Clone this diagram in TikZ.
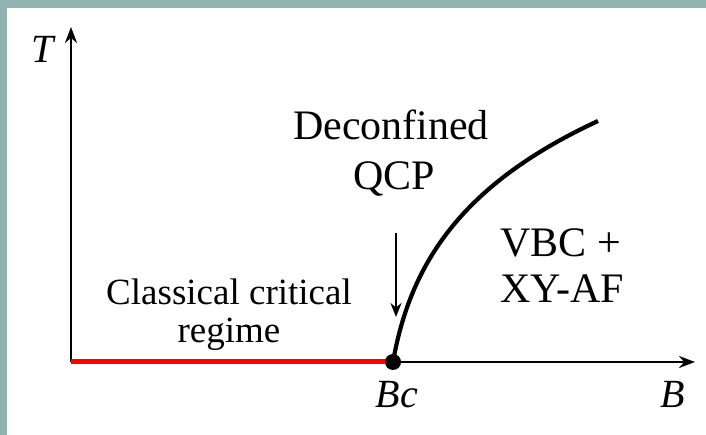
\documentclass[tikz,border=0pt]{standalone}
\usepackage{fontspec}
\setmainfont{Liberation Serif}
\usetikzlibrary{arrows.meta}
\definecolor{frame}{RGB}{146,178,178}
\tikzset{axis/.style={-{Stealth[length=16pt,width=12pt]},line width=2.8pt,draw=black},
 big/.style={font=\fontsize{42}{46}\selectfont,inner sep=0pt,anchor=base},
 mid/.style={font=\fontsize{37}{40}\selectfont,inner sep=0pt,anchor=base},
 pointer/.style={-{Stealth[length=14pt,width=11pt]},line width=2.2pt}}
\begin{document}
\begin{tikzpicture}[x=1pt,y=1pt]
\useasboundingbox (0,0) rectangle (706,435);
\fill[white] (0,0) rectangle (706,435);
\fill[frame] (0,0) rectangle (7,435);
\fill[frame] (0,427) rectangle (706,435);
\coordinate (o) at (71,73);
\coordinate (ytop) at (71,408);
\coordinate (xend) at (695,73);
\coordinate (bc) at (393,73);
\coordinate (lineend) at (598,314);
\draw[axis] (o)--(ytop);
\draw[axis] (o)--(xend);
\draw[red,line width=5pt] (o)--(bc);
\draw[line width=4.2pt] (bc) .. controls (410,170) and (460,250) .. (lineend);
\fill (bc) circle (8);
\node[big,font=\fontsize{40}{44}\selectfont\itshape] (tlab) at (43,372) {T};
\node[big,font=\fontsize{40}{44}\selectfont\itshape] (bclab) at (397,27) {Bc};
\node[big,font=\fontsize{40}{44}\selectfont\itshape] (blab) at (673,27) {B};
\node[big] (dec) at (391,295) {Deconfined};
\node[big] (qcp) at (394,245) {QCP};
\coordinate (arrtop) at (396,202);
\coordinate (arrtip) at (396,118);
\draw[pointer] (arrtop)--(arrtip);
\node[big,anchor=base west] (vbc) at (500,178) {VBC +};
\node[big,anchor=base west] (xyaf) at (500,132) {XY-AF};
\node[mid] (cla) at (229,130) {Classical critical};
\node[mid] (reg) at (229,92) {regime};
\end{tikzpicture}
\end{document}
